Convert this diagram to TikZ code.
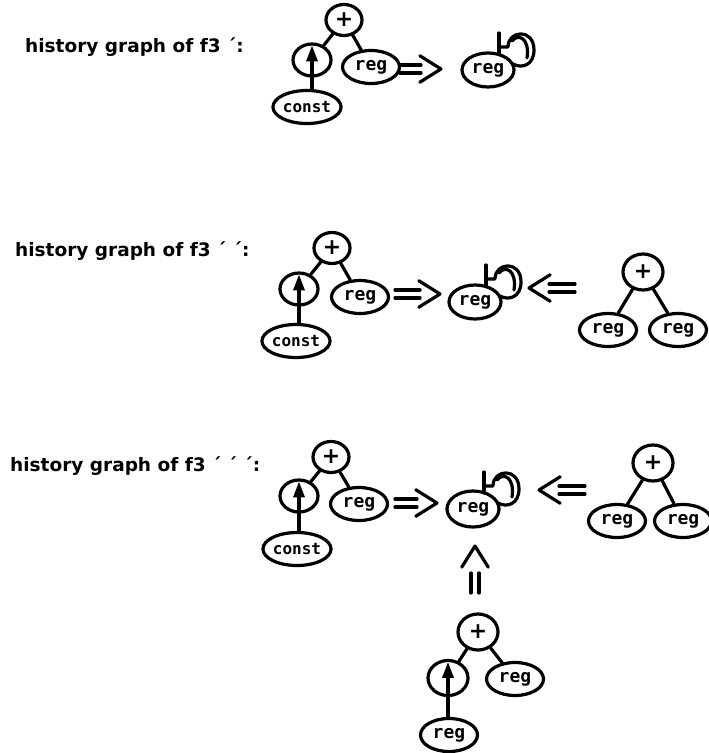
\documentclass[tikz,border=0pt]{standalone}
\usepackage{fontspec}
\setmainfont{DejaVu Sans}
\newfontfamily\labelfont{DejaVu Sans Mono}
\usetikzlibrary{shapes.geometric,arrows.meta,calc}
\tikzset{
  edge/.style={
    line width=3.2pt,
    line cap=round,
    line join=round
  },
  op-node/.style={ellipse, draw, line width=3.2pt, minimum width=36pt, minimum height=31pt, inner sep=0pt, font=\fontsize{22}{22}\selectfont\bfseries},
  op-big/.style={op-node, minimum width=40pt, minimum height=36pt},
  arrow-node/.style={ellipse, draw, line width=3.2pt, minimum width=38pt, minimum height=32pt, inner sep=0pt},
  leaf-node/.style={ellipse, draw, line width=3.2pt, minimum width=57pt, minimum height=33pt, inner sep=0pt, font=\labelfont\fontsize{18}{18}\selectfont\bfseries},
  const-node/.style={leaf-node, minimum width=64pt, font=\labelfont\fontsize{16}{16}\selectfont\bfseries},
  title/.style={anchor=west, inner sep=0pt, font=\fontsize{18.5}{20}\selectfont\bfseries},
  up-arrow/.style={edge, -{Triangle[length=16pt,width=11pt]}}
}

\begin{document}
\begin{tikzpicture}[x=1pt,y=-1pt]
  \useasboundingbox (0,0) rectangle (709,753);

  % --- double implication arrow: from #2 to #3, #1 = length of the chevron part ---
  \newcommand{\impl}[3][20pt]{%
    \coordinate (imp-back) at ($(#3)!#1!(#2)$);
    \draw[edge] ($(#2)!4pt!90:(#3)$) -- ($(imp-back)!4pt!-90:(#2)$);
    \draw[edge] ($(#2)!4pt!-90:(#3)$) -- ($(imp-back)!4pt!90:(#2)$);
    \draw[edge] ($(#3)!25pt!32:(#2)$) -- (#3) -- ($(#3)!25pt!-32:(#2)$);
  }
  % --- loop on top right of a reg node ---
  \newcommand{\selfloop}[1]{%
    \draw[edge] ($(#1)+(11,-37)$) -- ($(#1)+(11,-16)$);
    \draw[edge] ($(#1)+(11,-23)$) -- ($(#1)+(20,-23)$)
      .. controls ($(#1)+(20,-40)$) and ($(#1)+(46,-42)$) .. ($(#1)+(46,-20)$)
      .. controls ($(#1)+(46,-5)$) and ($(#1)+(34,-1)$) .. ($(#1)+(25,-6)$);
    \draw[edge] ($(#1)+(24,-29)$) .. controls ($(#1)+(30,-37)$) and ($(#1)+(42,-32)$) .. ($(#1)+(39,-12)$);
  }

  % ===== f3' =====
  \node[title] (t1) at (25,47) {history graph of f3 ´:};
  \node[op-node] (p1) at (344,20) {+};
  \node[arrow-node] (a1) at (312,60) {};
  \node[leaf-node] (r1) at (371,67) {reg};
  \node[const-node] (k1) at (307,107) {const};
  \draw[edge] (p1) -- (a1);
  \draw[edge] (p1) -- (r1);
  \draw[up-arrow] (k1.north -| a1) -- ([yshift=-3pt]a1.north);
  \coordinate (i1s) at (400,69);
  \coordinate (i1e) at (441,69);
  \impl{i1s}{i1e}
  \node[leaf-node, minimum width=52pt, minimum height=34pt] (l1) at (488,70) {reg};
  \selfloop{l1}

  % ===== f3'' =====
  \node[title] (t2) at (15,251) {history graph of f3 ´ ´:};
  \node[op-node] (p2) at (332,248) {+};
  \node[arrow-node] (a2) at (299,289) {};
  \node[leaf-node] (r2) at (360,297) {reg};
  \node[const-node] (k2) at (296,341) {const};
  \draw[edge] (p2) -- (a2);
  \draw[edge] (p2) -- (r2);
  \draw[up-arrow] (k2.north -| a2) -- ([yshift=-3pt]a2.north);
  \coordinate (i2s) at (395,294);
  \coordinate (i2e) at (440,294);
  \impl{i2s}{i2e}
  \node[leaf-node, minimum width=52pt, minimum height=34pt] (l2) at (475,302) {reg};
  \selfloop{l2}
  \coordinate (j2s) at (575,288);
  \coordinate (j2e) at (529,288);
  \impl{j2s}{j2e}
  \node[op-big] (q2) at (643,272) {+};
  \node[leaf-node] (s2) at (608,330) {reg};
  \node[leaf-node] (u2) at (678,330) {reg};
  \draw[edge] (q2) -- (s2);
  \draw[edge] (q2) -- (u2);

  % ===== f3''' =====
  \node[title] (t3) at (10,466) {history graph of f3 ´ ´ ´:};
  \node[op-node] (p3) at (331,457) {+};
  \node[arrow-node] (a3) at (299,496) {};
  \node[leaf-node] (r3) at (359,504) {reg};
  \node[const-node] (k3) at (297,549) {const};
  \draw[edge] (p3) -- (a3);
  \draw[edge] (p3) -- (r3);
  \draw[up-arrow] (k3.north -| a3) -- ([yshift=-3pt]a3.north);
  \coordinate (i3s) at (395,503);
  \coordinate (i3e) at (437,503);
  \impl{i3s}{i3e}
  \node[leaf-node, minimum width=52pt, minimum height=36pt] (l3) at (473,509) {reg};
  \selfloop{l3}
  \coordinate (j3s) at (585,490);
  \coordinate (j3e) at (539,490);
  \impl{j3s}{j3e}
  \node[op-big] (q3) at (653,463) {+};
  \node[leaf-node] (s3) at (617,521) {reg};
  \node[leaf-node] (u3) at (683,521) {reg};
  \draw[edge] (q3) -- (s3);
  \draw[edge] (q3) -- (u3);

  % --- tree below, pointing up ---
  \coordinate (v3s) at (475,593);
  \coordinate (v3e) at (475,546);
  \impl[27pt]{v3s}{v3e}
  \node[op-big] (p4) at (478,632) {+};
  \node[arrow-node, minimum width=40pt, minimum height=35pt] (a4) at (448,678) {};
  \node[leaf-node] (r4) at (515,679) {reg};
  \node[leaf-node] (k4) at (449,735) {reg};
  \draw[edge] (p4) -- (a4);
  \draw[edge] (p4) -- (r4);
  \draw[up-arrow] (k4.north -| a4) -- ([yshift=-3pt]a4.north);
\end{tikzpicture}
\end{document}
